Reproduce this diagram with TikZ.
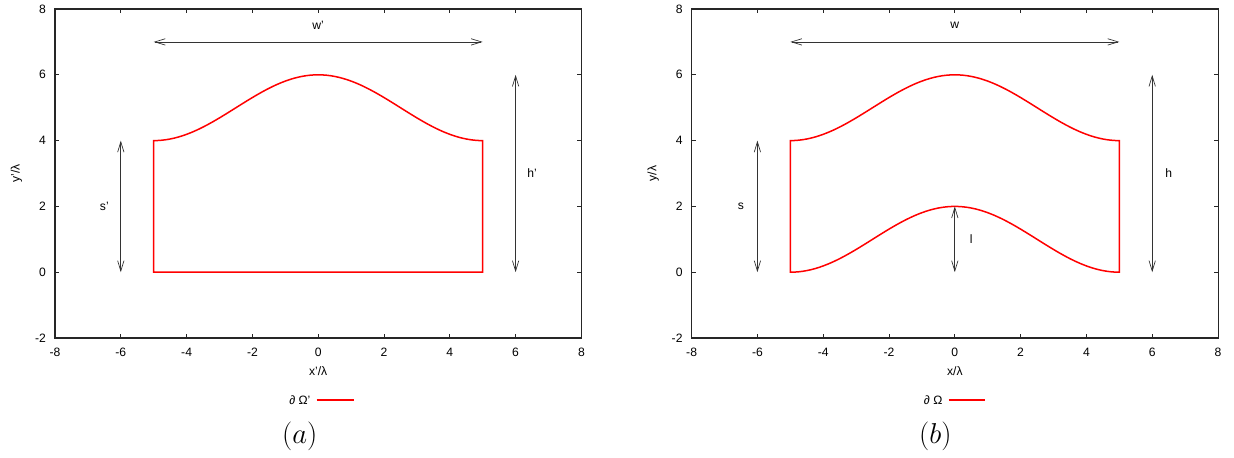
\documentclass[tikz,border=0pt]{standalone}
\usepackage[no-math]{fontspec}
\setmainfont{Liberation Sans}
\usetikzlibrary{arrows.meta}

\begin{document}
\begin{tikzpicture}[font=\fontsize{10.5}{12}\selectfont,
  frame/.style={line width=.9pt,black!85},
  tickmark/.style={line width=.6pt,black!85},
  dim/.style={line width=.6pt,black!80,{Straight Barb[length=9pt,width=5.5pt]}-{Straight Barb[length=9pt,width=5.5pt]}},
  wall/.style={line width=1.3pt,red},
  keyline/.style={line width=1.2pt,red}, 
  sublabel/.style={font=\fontsize{23}{27}\selectfont}]
\useasboundingbox (-9.672,-5.617) rectangle (27.836,8.274);
% frames, ticks and axis labels of both panels
\foreach \ox/\p/\q in {0/a/',19.35/b/}{
  \begin{scope}[xshift=\ox cm]
    \draw[frame] (-8,-2) rectangle (8,8);
    \foreach \x in {-8,-6,...,8}{
      \draw[tickmark] (\x,-2) -- ++(0,.13) (\x,8) -- ++(0,-.13);
      \node[inner sep=0] (\p x\x) at (\x,-2.44) {\x};
    }
    \foreach \y in {-2,0,...,8}{
      \draw[tickmark] (-8,\y) -- ++(.13,0) (8,\y) -- ++(-.13,0);
      \node[anchor=east,inner sep=0] (\p y\y) at (-8.27,\y) {\y};
    }
    \node (\p xlabel) at (0,-3.0) {x\q/λ};
    \node[rotate=90] (\p ylabel) at (-9.17,3) {y\q/λ};
  \end{scope}
}
% panel (a)
\draw[wall] (-5,0) -- (-5,4) -- plot[domain=-5:5,samples=81,smooth] (\x,{5+cos(36*\x)}) -- (5,0) -- cycle;
\coordinate (aw1) at (-5,7); \coordinate (aw2) at (5,7);
\coordinate (as1) at (-6,0); \coordinate (as2) at (-6,4);
\coordinate (ah1) at (6,0); \coordinate (ah2) at (6,6);
\draw[dim] (aw1) -- (aw2);
\draw[dim] (as1) -- (as2);
\draw[dim] (ah1) -- (ah2);
\node (aw) at (0,7.5) {w'};
\node (as) at (-6.5,2) {s'};
\node (ah) at (6.5,3) {h'};
\node[anchor=east,inner sep=0] (akey) at (-0.23,-3.88) {∂ Ω'};
\coordinate (akey1) at (-0.05,-3.88); \coordinate (akey2) at (1.08,-3.88);
\draw[keyline] (akey1) -- (akey2);
\node[sublabel] (acap) at (-0.56,-4.98) {$(a)$};
% panel (b)
\begin{scope}[xshift=19.35cm]
  \draw[wall] (-5,0) -- (-5,4) -- plot[domain=-5:5,samples=81,smooth] (\x,{5+cos(36*\x)}) -- (5,0)
    -- plot[domain=5:-5,samples=81,smooth] (\x,{1+cos(36*\x)}) -- cycle;
  \coordinate (bw1) at (-5,7); \coordinate (bw2) at (5,7);
  \coordinate (bs1) at (-6,0); \coordinate (bs2) at (-6,4);
  \coordinate (bh1) at (6,0); \coordinate (bh2) at (6,6);
  \coordinate (bl1) at (0,0); \coordinate (bl2) at (0,2);
  \draw[dim] (bw1) -- (bw2);
  \draw[dim] (bs1) -- (bs2);
  \draw[dim] (bh1) -- (bh2);
  \draw[dim] (bl1) -- (bl2);
  \node (bw) at (0,7.5) {w};
  \node (bs) at (-6.5,2) {s};
  \node (bh) at (6.5,3) {h};
  \node (bl) at (0.5,1) {l};
  \node[anchor=east,inner sep=0] (bkey) at (-0.37,-3.88) {∂ Ω};
  \coordinate (bkey1) at (-0.19,-3.88); \coordinate (bkey2) at (0.93,-3.88);
  \draw[keyline] (bkey1) -- (bkey2);
  \node[sublabel] (bcap) at (-0.59,-4.98) {$(b)$};
\end{scope}
\end{tikzpicture}
\end{document}
